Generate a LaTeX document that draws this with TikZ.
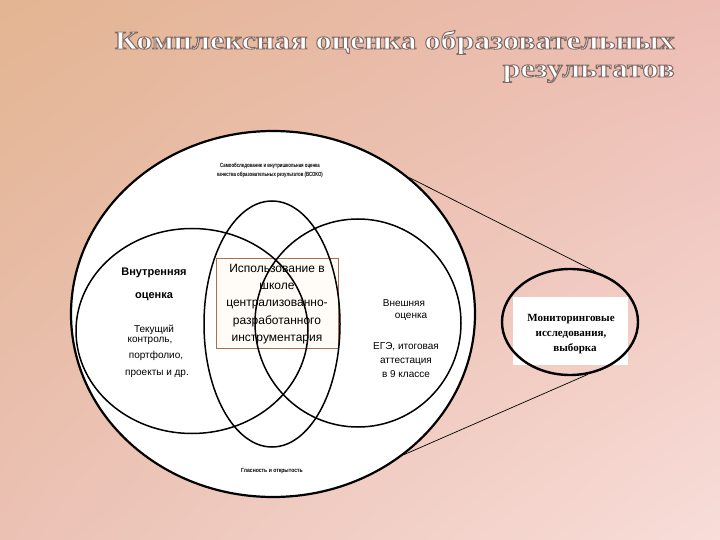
\documentclass[tikz,border=0pt]{standalone}
\usepackage{fontspec}
\setmainfont{Liberation Serif}
\newfontfamily\arialf{Liberation Sans}
\usetikzlibrary{shapes.geometric,shadings}
\definecolor{bgUL}{HTML}{E3B592}
\definecolor{bgUR}{HTML}{EDBDB5}
\definecolor{bgLL}{HTML}{EBC1B4}
\definecolor{bgLR}{HTML}{F8DDD8}
\definecolor{rectline}{HTML}{A8704E}
\definecolor{rectfill}{HTML}{FFFBF6}
\newcommand{\outlinetext}[1]{\color{white}\special{pdf:literal direct 2 Tr 0.9 w 0.50 0.42 0.40 RG}#1\special{pdf:literal direct 0 Tr}}
\tikzset{
  ring/.style={ellipse, draw=black, inner sep=0pt, line width=1.5pt},
  lbl/.style={font=\arialf\fontsize{10}{12}\selectfont, align=center, inner sep=0pt},
  tiny/.style={font=\arialf\bfseries\fontsize{6}{9}\selectfont, align=center, inner sep=0pt},
  ttl/.style={font=\bfseries\fontsize{26}{27}\selectfont, inner sep=0pt, anchor=base east},
}
\begin{document}
\begin{tikzpicture}[x=1pt,y=-1pt]
\shade[upper left=bgUL, upper right=bgUR, lower left=bgLL, lower right=bgLR] (0,0) rectangle (720,540);
\useasboundingbox (0,0) rectangle (720,540);
% title
\node[ttl] (t1) at (675,49) {\scalebox{1.23}[1]{\outlinetext{Комплексная оценка образовательных}}};
\node[ttl] (t2) at (675,77) {\scalebox{1.23}[1]{\outlinetext{результатов}}};
% outer circle
\node[ellipse, draw=black, fill=white, line width=2.2pt, inner sep=0pt,
      minimum width=404pt, minimum height=366pt] (outer) at (273,314) {};
% rectangle
\node[draw=rectline, fill=rectfill, line width=0.9pt, minimum width=122pt, minimum height=90pt, inner sep=0pt] (box) at (277,303) {};
% circles
\node[ring, minimum width=232pt, minimum height=205pt] (inner) at (192,331) {};
\node[ring, minimum width=206pt, minimum height=208pt] (extern) at (358,323) {};
\node[ring, minimum width=136pt, minimum height=246pt] (central) at (272,324) {};
% box text
\node[font=\arialf\fontsize{12}{17.2}\selectfont, align=center, inner sep=0pt] (boxt) at (277,304)
  {Использование в\\школе\\централизованно-\\разработанного\\инструментария};
% inner labels
\node[font=\arialf\bfseries\fontsize{11}{23}\selectfont, align=center, inner sep=0pt] (inl) at (154,284) {Внутренняя\\оценка};
\node[lbl] (inl2) at (154,330) {Текущий};
\node[lbl] (inl3) at (150,341) {контроль,};
\node[lbl] (inl4) at (156,356) {портфолио,};
\node[lbl] (inl5) at (157,374) {проекты и др.};
% external labels
\node[lbl] (ex1) at (404,303) {Внешняя};
\node[lbl] (ex2) at (411,317) {оценка};
\node[lbl, font=\arialf\fontsize{10}{14}\selectfont] (ex3) at (406,360) {ЕГЭ, итоговая\\аттестация\\в 9 классе};
% tiny labels
\node[tiny] (top) at (270,170) {\scalebox{0.72}[1]{Самообследование и внутришкольная оценка}\\\scalebox{0.72}[1]{качества образовательных результатов (ВСОКО)}};
\node[tiny] (bot) at (272,471) {\scalebox{0.85}[1]{Гласность и открытость}};
% monitoring
\node[fill=white, minimum width=115pt, minimum height=68pt, inner sep=0pt] (monbg) at (570,331) {};
\node[ellipse, draw=black, line width=2.4pt, inner sep=0pt, minimum width=136pt, minimum height=106pt] (mon) at (570,322) {};
\node[font=\bfseries\fontsize{11}{15}\selectfont, align=center, inner sep=0pt] (mont) at (571,334) {Мониторинговые\\исследования,\\\hspace{8pt}выборка};
% connectors
\draw[line width=0.7pt] (outer.45) -- (mon.63);
\draw[line width=0.7pt] (outer.-47) -- (mon.-71);
\end{tikzpicture}
\end{document}
